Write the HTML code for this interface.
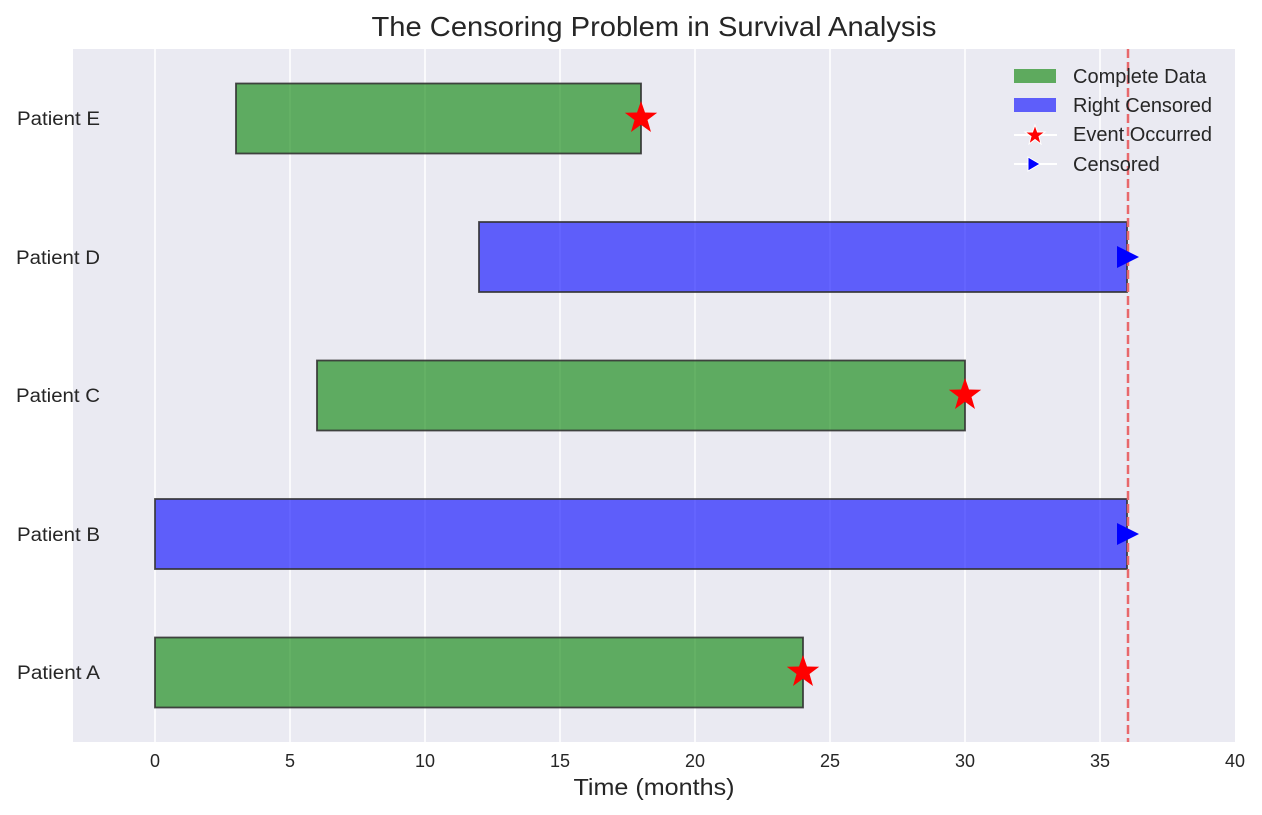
<!DOCTYPE html>
<html><head><meta charset="utf-8"><style>body{margin:0;background:#fff}svg{display:block}</style></head><body>
<svg width="1262" height="815" xmlns="http://www.w3.org/2000/svg" font-family="Liberation Sans, Arial, sans-serif">
<rect x="73" y="49" width="1162" height="693" fill="#eaeaf2"/>
<g stroke="#fff" stroke-width="1.5">
<line x1="155" y1="49" x2="155" y2="742"/><line x1="290" y1="49" x2="290" y2="742"/><line x1="425" y1="49" x2="425" y2="742"/><line x1="560" y1="49" x2="560" y2="742"/><line x1="695" y1="49" x2="695" y2="742"/><line x1="830" y1="49" x2="830" y2="742"/><line x1="965" y1="49" x2="965" y2="742"/><line x1="1100" y1="49" x2="1100" y2="742"/>
</g>
<g stroke="#333" stroke-width="1.8" stroke-opacity="0.9">
<rect x="155" y="637.5" width="648" height="70" fill="#008000" fill-opacity="0.6"/>
<rect x="155" y="499" width="972" height="70" fill="#0000ff" fill-opacity="0.6"/>
<rect x="317" y="360.5" width="648" height="70" fill="#008000" fill-opacity="0.6"/>
<rect x="479" y="222" width="648" height="70" fill="#0000ff" fill-opacity="0.6"/>
<rect x="236" y="83.5" width="405" height="70" fill="#008000" fill-opacity="0.6"/>
</g>
<line x1="1128" y1="49" x2="1128" y2="742" stroke="#e8686c" stroke-width="2.5" stroke-dasharray="9,4"/>
<defs><polygon id="st" points="0,-17 4,-5.5 16.2,-5.3 6.5,2 10,14 0,6.8 -10,14 -6.5,2 -16.2,-5.3 -4,-5.5" fill="#ff0000"/></defs>
<use href="#st" x="803" y="672"/>
<use href="#st" x="965" y="395"/>
<use href="#st" x="641" y="118"/>
<polygon points="1117,246 1139,257 1117,268" fill="#0000ff"/>
<polygon points="1117,523 1139,534 1117,545" fill="#0000ff"/>
<g font-size="19" fill="#262626">
<text x="17" y="679" textLength="83" lengthAdjust="spacingAndGlyphs">Patient A</text>
<text x="17" y="541" textLength="83" lengthAdjust="spacingAndGlyphs">Patient B</text>
<text x="16" y="402" textLength="84" lengthAdjust="spacingAndGlyphs">Patient C</text>
<text x="16" y="264" textLength="84" lengthAdjust="spacingAndGlyphs">Patient D</text>
<text x="17" y="125" textLength="83" lengthAdjust="spacingAndGlyphs">Patient E</text>
</g>
<g font-size="18" fill="#262626" text-anchor="middle">
<text x="155" y="767">0</text><text x="290" y="767">5</text><text x="425" y="767">10</text><text x="560" y="767">15</text><text x="695" y="767">20</text><text x="830" y="767">25</text><text x="965" y="767">30</text><text x="1100" y="767">35</text><text x="1235" y="767">40</text>
</g>
<text x="654" y="795" font-size="23" fill="#262626" text-anchor="middle" textLength="161" lengthAdjust="spacingAndGlyphs">Time (months)</text>
<text x="654" y="36" font-size="28" fill="#262626" text-anchor="middle" textLength="565" lengthAdjust="spacingAndGlyphs">The Censoring Problem in Survival Analysis</text>
<g font-size="20" fill="#262626">
<rect x="1014" y="69" width="42" height="14" fill="#5eaa5e"/>
<text x="1073" y="83">Complete Data</text>
<rect x="1014" y="98" width="42" height="14" fill="#5e5efa"/>
<text x="1073" y="112">Right Censored</text>
<line x1="1014" y1="135" x2="1057" y2="135" stroke="#fff" stroke-width="2"/>
<polygon points="1035,125 1037.5,132 1045,132 1039,136.5 1041,144 1035,139.5 1029,144 1031,136.5 1025,132 1032.5,132" fill="#ff0000" stroke="#fff" stroke-width="1"/>
<text x="1073" y="141">Event Occurred</text>
<line x1="1014" y1="164" x2="1057" y2="164" stroke="#fff" stroke-width="2"/>
<polygon points="1028,157 1040,164 1028,171" fill="#0000ff" stroke="#fff" stroke-width="1"/>
<text x="1073" y="171">Censored</text>
</g>
</svg>
</body></html>
